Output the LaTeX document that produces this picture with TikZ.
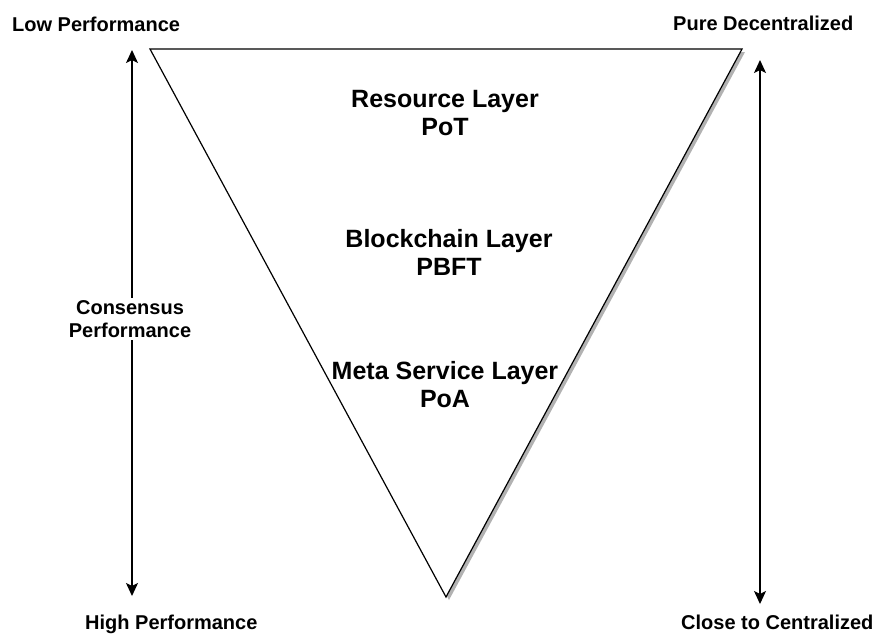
\documentclass[tikz,border=0pt]{standalone}
\usepackage{fontspec}
\setmainfont{Liberation Sans}
\usetikzlibrary{arrows.meta}
\begin{document}
\begin{tikzpicture}[x=1pt,y=-1pt,
  small/.style={font=\bfseries\fontsize{20}{22.5}\selectfont, inner sep=0pt, align=center},
  big/.style={font=\bfseries\fontsize{25}{28}\selectfont, inner sep=0pt, align=center},
  axis/.style={line width=1.3pt, {Stealth[length=13pt,width=12pt,inset=3pt]}-{Stealth[length=13pt,width=12pt,inset=3pt]}},
  tri/.style={draw=black, fill=white, line width=1.2pt, line join=miter}]
\useasboundingbox (0,0) rectangle (875,633);
% triangle
\coordinate (tl) at (150,49);
\coordinate (tr) at (742,49);
\coordinate (bt) at (446,597);
\fill[black!30] ([shift={(3,3)}]tl) -- ([shift={(3,3)}]tr) -- ([shift={(3,3)}]bt) -- cycle;
\draw[tri] (tl) -- (tr) -- (bt) -- cycle;
% layer labels (base = last line)
\node[big, anchor=base] (res) at (445,135) {Resource Layer\\PoT};
\node[big, anchor=base] (blk) at (449,275) {Blockchain Layer\\PBFT};
\node[big, anchor=base] (meta) at (445,407) {Meta Service Layer\\PoA};
% left axis
\coordinate (la) at (132,50);
\coordinate (lb) at (132,596);
\draw[axis] (la) -- (lb);
\node[small, fill=white, inner sep=3pt, anchor=base] (cons) at (130,337) {Consensus\\Performance};
% right axis
\coordinate (ra) at (760,60);
\coordinate (rb) at (760,604);
\draw[axis] (ra) -- (rb);
% end labels
\node[small, anchor=base west] (low) at (12,31) {Low Performance};
\node[small, anchor=base west] (pure) at (673,30) {Pure Decentralized};
\node[small, anchor=base west] (high) at (85,629) {High Performance};
\node[small, anchor=base west] (close) at (681,629) {Close to Centralized};
\end{tikzpicture}
\end{document}
